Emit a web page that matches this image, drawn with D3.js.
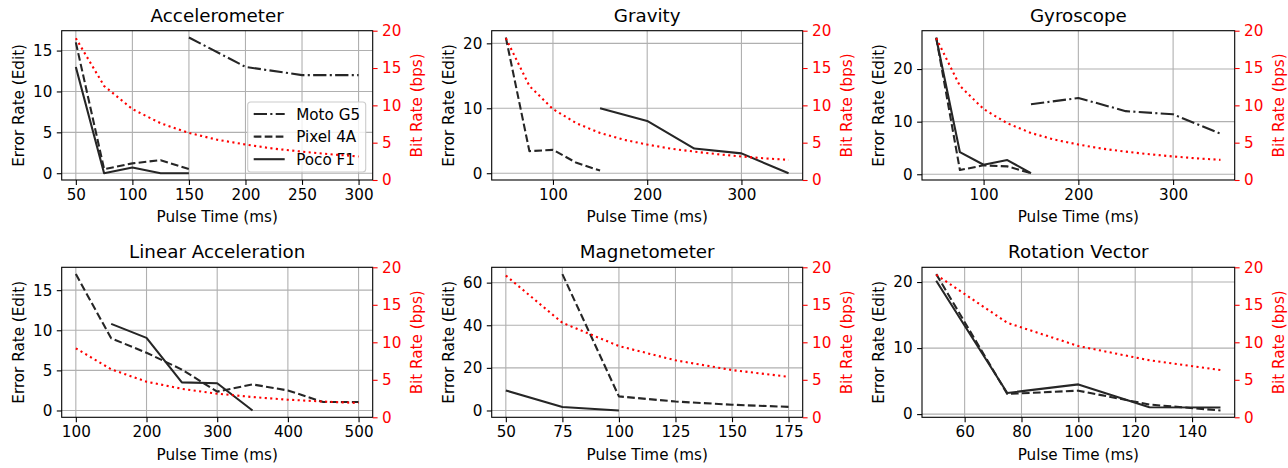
<!DOCTYPE html>
<html>
<head>
<meta charset="utf-8">
<title>Error rate and bit rate by sensor</title>
<script src="https://cdn.jsdelivr.net/npm/d3@7"></script>
<style>
  body { margin: 0; background: #fff; }
  svg text { font-family: "DejaVu Sans", sans-serif; }
</style>
</head>
<body>
<div id="chart"></div>
<script>
var devices = ['Moto G5', 'Pixel 4A', 'Poco F1'];
var titles = ['Accelerometer', 'Gravity', 'Gyroscope', 'Linear Acceleration', 'Magnetometer', 'Rotation Vector'];

// error rate (edit distance) as [pulse time ms, value]
var accelMoto = [[150, 16.6], [200, 13.0], [250, 12.0], [300, 12.0]];
var accelPixel = [[50, 16.0], [75, 0.5], [100, 1.2], [125, 1.6], [150, 0.5]];
var accelPoco = [[50, 13.0], [75, 0], [100, 0.7], [125, 0], [150, 0]];

var gravPixel = [[50, 20.9], [75, 3.4], [100, 3.6], [125, 1.6], [150, 0.4]];
var gravPoco = [[150, 10.0], [200, 8.05], [250, 3.8], [300, 3.05], [350, 0]];

var gyroMoto = [[150, 13.3], [200, 14.5], [250, 12.0], [300, 11.4], [350, 7.7]];
var gyroPixel = [[50, 26.0], [75, 0.8], [100, 1.7], [125, 1.5], [150, 0.2]];
var gyroPoco = [[50, 25.9], [75, 4.2], [100, 1.8], [125, 2.7], [150, 0.2]];

var linPixel = [[100, 17.0], [150, 9.0], [200, 7.2], [250, 5.1], [300, 2.35], [350, 3.25], [400, 2.5], [450, 1.05], [500, 1.05]];
var linPoco = [[150, 10.8], [200, 9.05], [250, 3.5], [300, 3.4], [350, 0]];

var magPixel = [[75, 64], [100, 6.6], [125, 4.2], [150, 2.7], [175, 1.7]];
var magPoco = [[50, 9.4], [75, 1.6], [100, 0]];

var rotPixel = [[50, 21.2], [75, 3.05], [100, 3.55], [125, 1.45], [150, 0.55]];
var rotPoco = [[50, 20.2], [75, 3.2], [100, 4.5], [125, 1.05], [150, 1.0]];

// bit rate (bps) as [pulse time ms, value]
var accelBits = [[50, 19.0], [75, 12.6], [100, 9.5], [125, 7.6], [150, 6.3], [175, 5.4], [200, 4.75], [225, 4.2], [250, 3.8], [275, 3.45], [300, 3.15]];
var gravBits = [[50, 19.0], [75, 12.6], [100, 9.5], [125, 7.6], [150, 6.3], [175, 5.4], [200, 4.75], [225, 4.2], [250, 3.8], [275, 3.45], [300, 3.15], [325, 2.9], [350, 2.7]];
var gyroBits = [[50, 19.0], [75, 12.6], [100, 9.5], [125, 7.6], [150, 6.3], [175, 5.4], [200, 4.75], [225, 4.2], [250, 3.8], [275, 3.45], [300, 3.15], [325, 2.9], [350, 2.7]];
var linBits = [[100, 9.2], [150, 6.4], [200, 4.75], [250, 3.8], [300, 3.15], [350, 2.7], [400, 2.35], [450, 2.1], [500, 1.9]];
var magBits = [[50, 18.9], [75, 12.6], [100, 9.5], [125, 7.6], [150, 6.3], [175, 5.4]];
var rotBits = [[50, 19.0], [75, 12.6], [100, 9.5], [125, 7.6], [150, 6.3]];

// tick values
var accelXTicks = [50, 100, 150, 200, 250, 300];
var gravXTicks = [100, 200, 300];
var gyroXTicks = [100, 200, 300];
var linXTicks = [100, 200, 300, 400, 500];
var magXTicks = [50, 75, 100, 125, 150, 175];
var rotXTicks = [60, 80, 100, 120, 140];
var accelYTicks = [0, 5, 10, 15];
var gravYTicks = [0, 10, 20];
var gyroYTicks = [0, 10, 20];
var linYTicks = [0, 5, 10, 15];
var magYTicks = [0, 20, 40, 60];
var rotYTicks = [0, 10, 20];
var bitTicks = [0, 5, 10, 15, 20];

var panels = [
  {series: [accelMoto, accelPixel, accelPoco], bits: accelBits, xTicks: accelXTicks, yTicks: accelYTicks, legend: true},
  {series: [null, gravPixel, gravPoco], bits: gravBits, xTicks: gravXTicks, yTicks: gravYTicks},
  {series: [gyroMoto, gyroPixel, gyroPoco], bits: gyroBits, xTicks: gyroXTicks, yTicks: gyroYTicks},
  {series: [null, linPixel, linPoco], bits: linBits, xTicks: linXTicks, yTicks: linYTicks},
  {series: [null, magPixel, magPoco], bits: magBits, xTicks: magXTicks, yTicks: magYTicks},
  {series: [null, rotPixel, rotPoco], bits: rotBits, xTicks: rotXTicks, yTicks: rotYTicks}
];

var dashes = ['13.3,3.3,2.1,3.3', '7.7,3.3', null];
var lineColor = '#262626';
var gridColor = '#b0b0b0';
var fontSize = 15.2;

var colLeft = [61.7, 491.7, 922], colWidth = [311, 311, 312.7];
var rowTop = [30.7, 267.3], rowHeight = [149.3, 150];

var svg = d3.select('#chart').append('svg')
    .attr('width', 1288)
    .attr('height', 468);

function styleAxis(sel, color) {
  sel.select('.domain').remove();
  sel.selectAll('line').attr('stroke', color).attr('stroke-width', 1.1);
  sel.selectAll('text')
      .attr('fill', color)
      .style('font-size', fontSize + 'px')
      .attr('font-family', null);
  sel.attr('font-family', null).attr('font-size', null);
}

panels.forEach(function(p, i) {
  var col = i % 3, row = Math.floor(i / 3);
  var w = colWidth[col], h = rowHeight[row];
  var g = svg.append('g')
      .attr('transform', 'translate(' + colLeft[col] + ',' + rowTop[row] + ')');

  var errPts = [].concat.apply([], p.series.filter(function(s) { return s; }));
  var xs = errPts.map(function(d) { return d[0]; }).concat(p.bits.map(function(d) { return d[0]; }));
  var xExt = d3.extent(xs), xPad = (xExt[1] - xExt[0]) * 0.05;
  var yExt = d3.extent(errPts, function(d) { return d[1]; }), yPad = (yExt[1] - yExt[0]) * 0.05;

  var x = d3.scaleLinear().domain([xExt[0] - xPad, xExt[1] + xPad]).range([0, w]);
  var y = d3.scaleLinear().domain([yExt[0] - yPad, yExt[1] + yPad]).range([h, 0]);
  var y2 = d3.scaleLinear().domain([0, 20]).range([h, 0]);

  // grid
  g.append('g').selectAll('line').data(p.xTicks).join('line')
      .attr('x1', function(d) { return x(d); }).attr('x2', function(d) { return x(d); })
      .attr('y1', 0).attr('y2', h)
      .attr('stroke', gridColor).attr('stroke-width', 1.1);
  g.append('g').selectAll('line').data(p.yTicks).join('line')
      .attr('y1', function(d) { return y(d); }).attr('y2', function(d) { return y(d); })
      .attr('x1', 0).attr('x2', w)
      .attr('stroke', gridColor).attr('stroke-width', 1.1);

  var clipId = 'clip' + i;
  g.append('clipPath').attr('id', clipId)
    .append('rect').attr('width', w).attr('height', h);

  var line = d3.line().x(function(d) { return x(d[0]); }).y(function(d) { return y(d[1]); });
  p.series.forEach(function(s, k) {
    if (!s) return;
    g.append('path')
        .attr('clip-path', 'url(#' + clipId + ')')
        .attr('d', line(s))
        .attr('fill', 'none')
        .attr('stroke', lineColor)
        .attr('stroke-width', 2.1)
        .attr('stroke-linejoin', 'round')
        .attr('stroke-dasharray', dashes[k]);
  });

  if (p.legend) {
    var lw = 118, lh = 70;
    var lg = g.append('g').attr('transform', 'translate(' + (w - 7 - lw) + ',' + (h - 8 - lh) + ')');
    lg.append('rect')
        .attr('width', lw).attr('height', lh).attr('rx', 3)
        .attr('fill', '#fff').attr('fill-opacity', 0.8)
        .attr('stroke', '#ccc').attr('stroke-width', 1.1);
    devices.forEach(function(name, k) {
      var cy = 12 + k * 22.6;
      lg.append('line')
          .attr('x1', 6).attr('x2', 37).attr('y1', cy).attr('y2', cy)
          .attr('stroke', lineColor).attr('stroke-width', 2.1)
          .attr('stroke-dasharray', dashes[k]);
      lg.append('text')
          .attr('x', 48.5).attr('y', cy + 5.5)
          .style('font-size', fontSize + 'px')
          .attr('fill', '#000')
          .text(name);
    });
  }

  // bit rate on the twin axis
  var bitLine = d3.line().x(function(d) { return x(d[0]); }).y(function(d) { return y2(d[1]); });
  g.append('path')
      .attr('d', bitLine(p.bits))
      .attr('fill', 'none')
      .attr('stroke', 'red')
      .attr('stroke-width', 2.1)
      .attr('stroke-dasharray', '2.1,3.4');

  g.append('rect')
      .attr('width', w).attr('height', h)
      .attr('fill', 'none').attr('stroke', '#000').attr('stroke-width', 1.1);

  g.append('g').attr('transform', 'translate(0,' + h + ')')
      .call(d3.axisBottom(x).tickValues(p.xTicks).tickSize(4.9).tickPadding(4.5).tickSizeOuter(0))
      .call(styleAxis, '#000');
  g.append('g')
      .call(d3.axisLeft(y).tickValues(p.yTicks).tickSize(4.9).tickPadding(4.5).tickSizeOuter(0))
      .call(styleAxis, '#000');
  g.append('g').attr('transform', 'translate(' + w + ',0)')
      .call(d3.axisRight(y2).tickValues(bitTicks).tickSize(4.9).tickPadding(4.5).tickSizeOuter(0))
      .call(styleAxis, 'red');

  g.append('text')
      .attr('x', w / 2).attr('y', -9)
      .attr('text-anchor', 'middle')
      .style('font-size', '18.3px')
      .text(titles[i]);
  g.append('text')
      .attr('x', w / 2).attr('y', h + 42.5)
      .attr('text-anchor', 'middle')
      .style('font-size', fontSize + 'px')
      .text('Pulse Time (ms)');
  g.append('text')
      .attr('transform', 'translate(-38,' + (h / 2) + ') rotate(-90)')
      .attr('text-anchor', 'middle')
      .style('font-size', fontSize + 'px')
      .text('Error Rate (Edit)');
  g.append('text')
      .attr('transform', 'translate(' + (w + 49) + ',' + (h / 2) + ') rotate(-90)')
      .attr('text-anchor', 'middle')
      .attr('fill', 'red')
      .style('font-size', fontSize + 'px')
      .text('Bit Rate (bps)');
});
</script>
</body>
</html>
